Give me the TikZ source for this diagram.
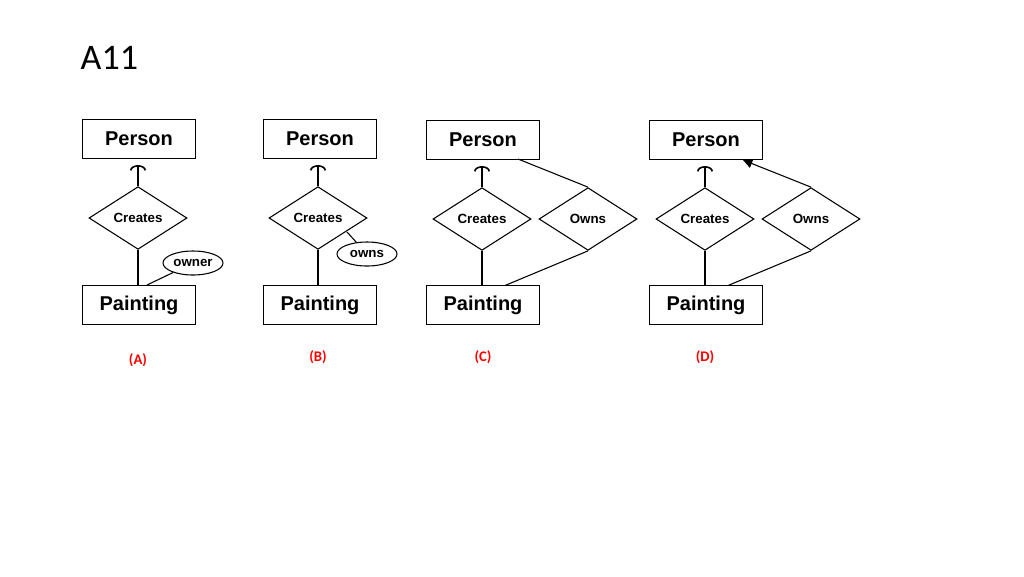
\documentclass[tikz,border=0pt]{standalone}
\usepackage{fontspec}
\setmainfont{Liberation Sans}
\newfontfamily\titlefont{Carlito}
\usetikzlibrary{shapes.geometric,arrows.meta,positioning}
\tikzset{
  entity/.style={draw,thick,minimum width=84.75pt,minimum height=29.25pt,inner sep=0pt,font=\fontsize{15}{15}\selectfont\bfseries},
  rel/.style={draw,thick,diamond,minimum width=73.5pt,minimum height=47pt,inner sep=0pt,font=\fontsize{10}{10}\selectfont\bfseries},
  attr/.style={draw,thick,ellipse,minimum width=45pt,minimum height=18pt,inner sep=0pt,font=\fontsize{10}{10}\selectfont\bfseries},
  caption/.style={text=red,font=\titlefont\fontsize{11}{11}\selectfont\bfseries},
  onearc/.style={thick,-{Arc Barb[length=4pt,width=12pt,line width=1.2pt]}}
}
\begin{document}
\begin{tikzpicture}[x=0.75pt,y=-0.75pt]
\useasboundingbox (0,0) rectangle (1024,576);
\node[anchor=west,font=\titlefont\fontsize{27}{27}\selectfont] (title) at (76,58) {A11};
% (A)
\node[entity] (pA) at (139,139) {Person};
\node[rel] (cA) at (138,218) {Creates};
\node[entity] (gA) at (139,305) {Painting};
\node[attr] (oA) at (193,263) {owner};
\coordinate (gAt) at (147,285);
\draw[onearc] (cA.north) -- ([yshift=-4.5pt]pA.south -| cA.north);
\draw[thick] (cA.south) -- (gA.north -| cA.south);
\draw[thick] (gAt) -- (oA);
\node[caption] (lA) at (138,360) {(A)};
% (B)
\node[entity] (pB) at (320,139) {Person};
\node[rel] (cB) at (318,218) {Creates};
\node[entity] (gB) at (320,305) {Painting};
\node[attr] (oB) at (367,254) {owns};
\coordinate (cBe) at (347,232);
\draw[onearc] (cB.north) -- ([yshift=-4.5pt]pB.south -| cB.north);
\draw[thick] (cB.south) -- (gB.north -| cB.south);
\draw[thick] (cBe) -- (oB);
\node[caption] (lB) at (318,357) {(B)};
% (C)
\node[entity] (pC) at (483,140) {Person};
\node[rel] (cC) at (482,219) {Creates};
\node[rel] (wC) at (588,219) {Owns};
\node[entity] (gC) at (483,305) {Painting};
\coordinate (pCb) at (518,159);
\coordinate (gCt) at (505,285.5);
\draw[onearc] (cC.north) -- ([yshift=-4.5pt]pC.south -| cC.north);
\draw[thick] (cC.south) -- (gC.north -| cC.south);
\draw[thick] (pCb) -- (wC.north);
\draw[thick] (wC.south) -- (gCt);
\node[caption] (lC) at (483,357) {(C)};
% (D)
\node[entity] (pD) at (706,140) {Person};
\node[rel] (cD) at (705,219) {Creates};
\node[rel] (wD) at (811,219) {Owns};
\node[entity] (gD) at (706,305) {Painting};
\coordinate (pDb) at (743,160);
\coordinate (gDt) at (728,285.5);
\draw[onearc] (cD.north) -- ([yshift=-4.5pt]pD.south -| cD.north);
\draw[thick] (cD.south) -- (gD.north -| cD.south);
\draw[thick,-{Triangle[length=7pt,width=7pt]}] (wD.north) -- (pDb);
\draw[thick] (wD.south) -- (gDt);
\node[caption] (lD) at (705,357) {(D)};
\end{tikzpicture}
\end{document}
